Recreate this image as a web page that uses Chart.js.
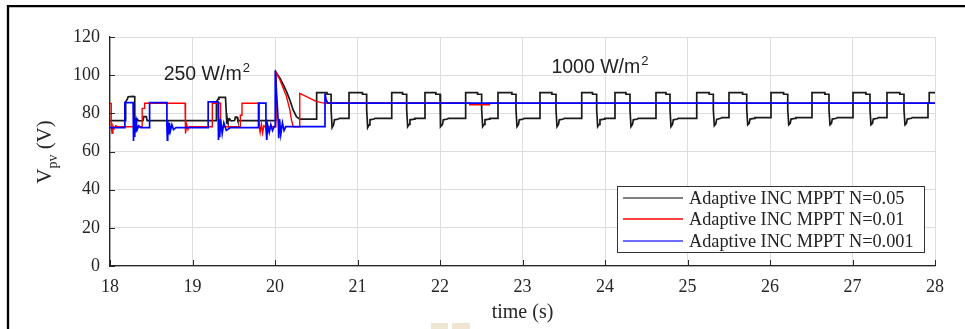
<!DOCTYPE html>
<html>
<head>
<meta charset="utf-8">
<title>Adaptive INC MPPT – PV voltage</title>
<script src="https://cdn.jsdelivr.net/npm/chart.js@4.4.1/dist/chart.umd.min.js"></script>
<style>
  html, body { margin: 0; padding: 0; background: #ffffff; }
  #wrap { position: relative; width: 965px; height: 329px; overflow: hidden; }
  canvas { display: block; }
</style>
</head>
<body>
<div id="wrap"><canvas id="vpv" width="965" height="329"></canvas></div>
<script>
// ---- axis ticks ----
const timeTicks = [18, 19, 20, 21, 22, 23, 24, 25, 26, 27, 28];
const voltTicks = [0, 20, 40, 60, 80, 100, 120];

// ---- series names ----
const seriesNames = [
  'Adaptive INC MPPT N=0.05',
  'Adaptive INC MPPT N=0.01',
  'Adaptive INC MPPT N=0.001'
];

// ---- irradiance annotations ----
const irradianceLabels = [
  { text: '250 W/m', sup: '2', t: 18.65, v: 97.5 },
  { text: '1000 W/m', sup: '2', t: 23.35, v: 101.3 }
];

// ---- N = 0.05 : PV voltage [time (s), Vpv (V)] ----
const traceN005 = [
  [18.00,76.2],[18.19,76.2],[18.19,86.1],[18.21,87.4],[18.22,88.7],[18.28,88.9],[18.30,88.7],
  [18.30,80.0],[18.305,74.5],[18.31,77.5],[18.32,75.0],[18.33,77.0],[18.35,76.0],[18.40,76.2],
  [18.41,78.3],[18.44,78.3],[18.45,76.2],
  [19.29,76.2],[19.29,86.1],[19.31,87.4],[19.32,88.4],[19.40,88.4],[19.41,80.0],[19.415,74.5],
  [19.42,77.5],[19.43,75.5],[19.45,77.0],[19.47,76.0],[19.51,76.2],[19.52,78.0],[19.54,78.0],[19.55,76.2],
  [20.00,76.2],[20.01,101.5],[20.06,98.4],[20.10,95.0],[20.14,91.4],[20.18,87.0],[20.22,81.8],
  [20.26,78.3],[20.30,77.0],[20.505,77.0],
  [20.505,90.8],[20.63,90.8],[20.63,90.0],[20.68,90.0],[20.68,82.0],[20.692,72.5],[20.71,74.0],[20.72,76.6],[20.77,77.0],[20.78,77.4],
  [20.897,77.4],[20.897,90.8],[21.06,90.8],[21.06,90.0],[21.111,90.0],[21.111,82.0],[21.123,72.5],[21.141,74.0],[21.151,76.6],[21.20,77.0],[21.21,77.4],
  [21.415,77.4],[21.415,90.8],[21.546,90.8],[21.546,90.0],[21.596,90.0],[21.596,82.0],[21.608,73.0],[21.626,74.2],[21.636,76.6],[21.686,77.0],[21.696,77.4],
  [21.818,77.4],[21.818,90.8],[21.95,90.8],[21.95,90.0],[22.00,90.0],[22.00,82.0],[22.012,73.0],[22.03,74.2],[22.04,76.6],[22.09,77.0],[22.10,77.4],
  [22.311,77.4],[22.311,90.8],[22.455,90.8],[22.455,90.0],[22.505,90.0],[22.505,82.0],[22.517,73.0],[22.535,74.2],[22.545,76.6],[22.595,77.0],[22.605,77.4],
  [22.703,77.4],[22.703,90.8],[22.871,90.8],[22.871,90.0],[22.921,90.0],[22.921,82.0],[22.933,73.0],[22.951,74.2],[22.961,76.6],[23.011,77.0],[23.021,77.4],
  [23.212,77.4],[23.212,90.8],[23.356,90.8],[23.356,90.0],[23.406,90.0],[23.406,82.0],[23.418,73.0],[23.436,74.2],[23.446,76.6],[23.496,77.0],[23.506,77.4],
  [23.718,77.4],[23.718,90.8],[23.849,90.8],[23.849,90.0],[23.899,90.0],[23.899,82.0],[23.911,73.0],[23.929,74.2],[23.939,76.6],[23.989,77.0],[23.999,77.4],
  [24.121,77.4],[24.121,90.8],[24.253,90.8],[24.253,90.0],[24.303,90.0],[24.303,82.0],[24.315,73.0],[24.333,74.2],[24.343,76.6],[24.393,77.0],[24.403,77.4],
  [24.618,77.4],[24.618,90.8],[24.738,90.8],[24.738,90.0],[24.788,90.0],[24.788,82.0],[24.80,73.0],[24.818,74.2],[24.828,76.6],[24.878,77.0],[24.888,77.4],
  [25.112,77.4],[25.112,90.8],[25.263,90.8],[25.263,90.0],[25.313,90.0],[25.313,82.0],[25.325,73.5],[25.343,74.5],[25.353,76.8],[25.403,77.4],[25.413,77.8],
  [25.503,77.8],[25.503,90.8],[25.668,90.8],[25.668,90.0],[25.718,90.0],[25.718,82.0],[25.73,74.0],[25.748,74.8],[25.758,77.0],[25.808,77.4],[25.818,77.8],
  [26.012,77.8],[26.012,90.8],[26.165,90.8],[26.165,90.0],[26.215,90.0],[26.215,82.0],[26.227,74.0],[26.245,74.8],[26.255,77.0],[26.305,77.4],[26.315,77.8],
  [26.509,77.8],[26.509,90.8],[26.665,90.8],[26.665,90.0],[26.715,90.0],[26.715,82.0],[26.727,74.0],[26.745,74.8],[26.755,77.0],[26.805,77.4],[26.815,77.8],
  [27.006,77.8],[27.006,90.8],[27.162,90.8],[27.162,90.0],[27.212,90.0],[27.212,82.0],[27.224,74.0],[27.242,74.8],[27.252,77.0],[27.302,77.4],[27.312,77.8],
  [27.418,77.8],[27.418,90.8],[27.574,90.8],[27.574,90.0],[27.624,90.0],[27.624,82.0],[27.636,74.0],[27.654,74.8],[27.664,77.0],[27.714,77.4],[27.724,77.8],
  [27.915,77.8],[27.915,85.3],[27.93,85.3],[27.93,90.8],[28.00,90.8]
];

// ---- N = 0.01 : PV voltage ----
const traceN001 = [
  [18.00,85.2],[18.015,85.2],[18.015,73.0],[18.025,69.5],[18.035,73.5],[18.05,72.0],[18.07,73.5],[18.09,73.0],
  [18.39,73.0],[18.39,82.6],[18.42,82.6],[18.42,85.3],[18.91,85.3],[18.91,73.0],[18.92,69.5],[18.93,74.0],
  [18.945,71.5],[18.96,73.0],[19.24,73.0],[19.24,85.3],[19.34,85.3],[19.34,73.0],
  [19.58,73.0],[19.58,79.0],[19.60,79.0],[19.60,85.3],[19.81,85.3],[19.81,73.0],[19.82,70.0],[19.835,74.5],
  [19.85,69.7],[19.865,73.5],[19.88,73.0],[20.00,73.0],[20.01,101.8],[20.06,97.5],[20.10,93.1],[20.14,88.7],
  [20.18,81.8],[20.20,76.5],[20.22,73.0],[20.30,73.0],[20.30,90.5],[20.50,86.3],[20.56,85.6],[20.606,85.4],
  [22.36,85.4],[22.36,84.5],[22.60,84.5],[22.60,85.3],[28.00,85.3]
];

// ---- N = 0.001 : PV voltage ----
const traceN0001 = [
  [18.00,72.5],[18.18,72.5],[18.18,85.6],[18.28,85.6],[18.28,72.5],[18.285,65.5],[18.29,80.0],[18.295,68.0],
  [18.30,77.0],[18.31,70.0],[18.32,75.0],[18.33,71.5],[18.35,73.5],[18.37,72.5],
  [18.48,72.5],[18.48,85.6],[18.69,85.6],[18.69,72.5],[18.695,66.0],[18.70,76.0],[18.71,69.0],[18.72,75.0],
  [18.73,70.5],[18.75,74.0],[18.77,71.5],[18.80,72.5],
  [19.19,72.5],[19.19,86.0],[19.31,86.0],[19.31,72.5],[19.315,66.0],[19.32,79.0],[19.33,67.5],[19.34,77.0],
  [19.36,69.5],[19.38,75.0],[19.41,71.0],[19.46,72.5],
  [19.80,72.5],[19.80,85.3],[19.89,85.3],[19.89,72.5],[19.90,66.0],[19.91,74.0],[19.93,70.0],[19.95,74.0],
  [19.97,71.0],[19.99,73.0],[20.00,73.0],[20.003,102.4],[20.04,75.0],[20.045,67.0],[20.055,77.0],[20.07,69.0],
  [20.09,75.0],[20.11,71.0],[20.13,73.0],[20.606,73.0],[20.606,90.5],[20.62,87.0],[20.64,85.3],[28.00,85.3]
];

const seriesColors = ['#1a1a1a', '#ff0000', '#0000ff'];
const legendLineColors = ['#555555', '#ff0000', '#3b3bff'];
const toPoints = arr => arr.map(p => ({ x: p[0], y: p[1] }));

const serif = '"Liberation Serif", "Times New Roman", serif';
const sans = '"Liberation Sans", Arial, sans-serif';
const inkColor = '#262626';

// axis titles, inward ticks, irradiance notes, legend box and the outer frame
const decor = {
  id: 'decor',
  afterDraw(chart) {
    const { ctx, chartArea: a, scales: { x, y } } = chart;
    ctx.save();

    // inward tick marks
    ctx.strokeStyle = inkColor;
    ctx.lineWidth = 1;
    timeTicks.forEach(t => {
      const px = Math.round(x.getPixelForValue(t)) + 0.5;
      ctx.beginPath(); ctx.moveTo(px, a.bottom); ctx.lineTo(px, a.bottom - 6); ctx.stroke();
    });
    voltTicks.forEach(v => {
      const py = Math.round(y.getPixelForValue(v)) + 0.5;
      ctx.beginPath(); ctx.moveTo(a.left, py); ctx.lineTo(a.left + 5, py); ctx.stroke();
    });

    // x-axis title
    ctx.fillStyle = inkColor;
    ctx.font = '20px ' + serif;
    ctx.textAlign = 'center';
    ctx.textBaseline = 'alphabetic';
    ctx.fillText('time (s)', (a.left + a.right) / 2, 318);

    // y-axis title: V_pv (V)
    ctx.save();
    ctx.translate(51, 152);
    ctx.rotate(-Math.PI / 2);
    ctx.textAlign = 'left';
    const big = '21px ' + serif, small = '14px ' + serif;
    ctx.font = big; const wV = ctx.measureText('V').width;
    ctx.font = small; const wS = ctx.measureText('pv').width;
    ctx.font = big; const wR = ctx.measureText(' (V)').width;
    let cx = -(wV + wS + wR) / 2;
    ctx.font = big; ctx.fillText('V', cx, 0); cx += wV;
    ctx.font = small; ctx.fillText('pv', cx, 6); cx += wS;
    ctx.font = big; ctx.fillText(' (V)', cx, 0);
    ctx.restore();

    // irradiance notes
    ctx.fillStyle = '#222222';
    ctx.textAlign = 'left';
    irradianceLabels.forEach(l => {
      const px = x.getPixelForValue(l.t), py = y.getPixelForValue(l.v);
      ctx.font = '19.5px ' + sans;
      ctx.fillText(l.text, px, py);
      const w = ctx.measureText(l.text).width;
      ctx.font = '13px ' + sans;
      ctx.fillText(l.sup, px + w + 1, py - 8);
    });

    // legend
    const bx = 617.5, by = 186.5, bw = 307, bh = 66;
    ctx.fillStyle = '#ffffff';
    ctx.fillRect(bx, by, bw, bh);
    ctx.strokeStyle = '#333333';
    ctx.lineWidth = 1;
    ctx.strokeRect(bx, by, bw, bh);
    const rows = [198, 219, 241];
    ctx.font = '18.3px ' + serif;
    ctx.textBaseline = 'middle';
    seriesNames.forEach((name, i) => {
      ctx.beginPath();
      ctx.strokeStyle = legendLineColors[i];
      ctx.lineWidth = 1.4;
      ctx.moveTo(623, rows[i]); ctx.lineTo(683, rows[i]);
      ctx.stroke();
      ctx.fillStyle = '#222222';
      ctx.fillText(name, 689, rows[i] + 1);
    });

    // outer frame
    ctx.strokeStyle = '#000000';
    ctx.lineWidth = 2.3;
    ctx.beginPath(); ctx.moveTo(8, 329); ctx.lineTo(8, 6.2); ctx.lineTo(965, 6.2); ctx.stroke();

    // small marks under the axis title
    ctx.fillStyle = '#efe5d3';
    ctx.fillRect(431, 323, 17, 6);
    ctx.fillRect(452, 323, 18, 6);

    ctx.restore();
  }
};

new Chart(document.getElementById('vpv'), {
  type: 'line',
  data: {
    datasets: [
      { label: seriesNames[0], data: toPoints(traceN005), borderColor: seriesColors[0], borderWidth: 1.7, order: 3 },
      { label: seriesNames[1], data: toPoints(traceN001), borderColor: seriesColors[1], borderWidth: 1.4, order: 2 },
      { label: seriesNames[2], data: toPoints(traceN0001), borderColor: seriesColors[2], borderWidth: 1.7, order: 1 }
    ]
  },
  options: {
    responsive: false,
    animation: false,
    devicePixelRatio: 1,
    parsing: false,
    elements: { point: { radius: 0 }, line: { tension: 0, fill: false } },
    layout: { padding: { left: 0, right: 30, top: 37, bottom: 0 } },
    plugins: { legend: { display: false }, tooltip: { enabled: false } },
    scales: {
      x: {
        type: 'linear', min: 18, max: 28,
        afterFit(s) { s.height = 63; },
        afterBuildTicks(s) { s.ticks = timeTicks.map(v => ({ value: v })); },
        ticks: { font: { family: serif, size: 18 }, color: inkColor, padding: 10, maxRotation: 0 },
        grid: { color: '#dddddd', lineWidth: 1, drawTicks: false },
        border: { display: true, color: inkColor, width: 1.3 }
      },
      y: {
        type: 'linear', min: 0, max: 120,
        afterFit(s) { s.width = 110; },
        afterBuildTicks(s) { s.ticks = voltTicks.map(v => ({ value: v })); },
        ticks: { font: { family: serif, size: 18 }, color: inkColor, padding: 10 },
        grid: { color: '#dddddd', lineWidth: 1, drawTicks: false },
        border: { display: true, color: inkColor, width: 1.3 }
      }
    }
  },
  plugins: [decor]
});
</script>
</body>
</html>
